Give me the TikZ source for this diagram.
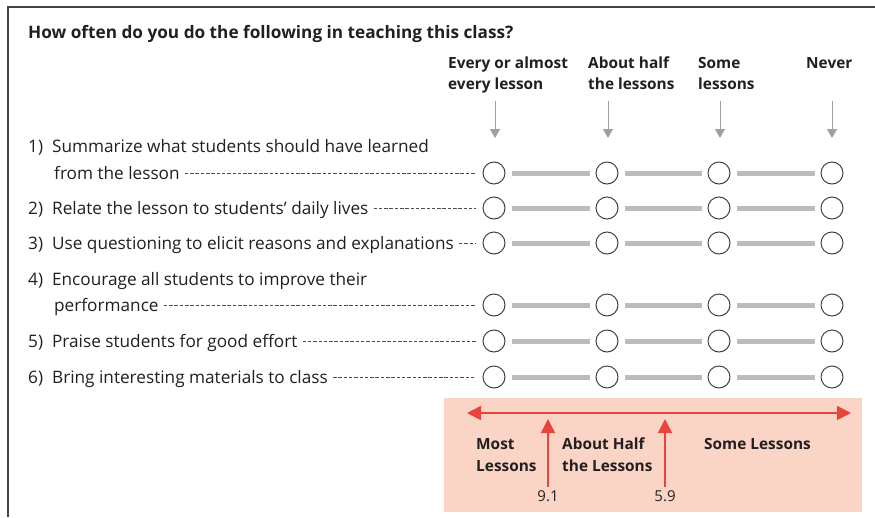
\documentclass[tikz,border=0pt]{standalone}
\usepackage{fontspec}
\setmainfont{Open Sans}
\usetikzlibrary{arrows.meta}
\definecolor{framegray}{HTML}{444444}
\definecolor{bargray}{HTML}{BCBCBE}
\definecolor{arrgray}{HTML}{A0A0A0}
\definecolor{salmon}{HTML}{FAD5C5}
\definecolor{redarr}{HTML}{E8453C}
\definecolor{txt}{HTML}{231F20}
\tikzset{
  x=1pt, y=-1pt,
  radio/.style={circle, draw=txt!85, line width=1pt, minimum size=22pt, inner sep=0pt},
  bar/.style={bargray, line width=5pt, shorten <=6pt, shorten >=6pt},
  leader/.style={txt!80, line width=0.6pt, dash pattern=on 3.5pt off 1.8pt, shorten >=7pt, shorten <=5pt},
  itemtxt/.style={anchor=base west, inner sep=0pt, text=txt, font=\fontsize{17.2}{20}\selectfont},
  headtxt/.style={anchor=base west, inner sep=0pt, text=txt, align=left, font=\bfseries\fontsize{15.4}{21}\selectfont},
  grayarr/.style={arrgray, line width=1pt, -{Triangle[width=10pt,length=9pt]}},
  redline/.style={redarr, line width=1.6pt},
  keytxt/.style={anchor=base west, inner sep=0pt, text=txt, align=left, font=\bfseries\fontsize{15.4}{22}\selectfont},
  numtxt/.style={anchor=base, inner sep=0pt, text=txt, font=\fontsize{15}{18}\selectfont}
}
\begin{document}
\begin{tikzpicture}
\useasboundingbox (0,0) rectangle (875,517);
\fill[white] (0,0) rectangle (875,517);
% frame
\draw[framegray, line width=1.5pt] (8,517) -- (8,7) -- (876,7);
% title
\node[anchor=base west, inner sep=0pt, text=txt, font=\bfseries\fontsize{17.2}{20}\selectfont] (title) at (28,38) {How often do you do the following in teaching this class?};
% headers (base = last line)
\node[headtxt] (h1) at (448,89) {Every or almost\\every lesson};
\node[headtxt] (h2) at (588,89) {About half\\the lessons};
\node[headtxt] (h3) at (698,89) {Some\\lessons};
\node[headtxt] (h4) at (806,68) {Never};
\coordinate (a1) at (495,101); \coordinate (b1) at (495,138);
\coordinate (a2) at (608,101); \coordinate (b2) at (608,138);
\coordinate (a3) at (720,101); \coordinate (b3) at (720,138);
\coordinate (a4) at (832,101); \coordinate (b4) at (832,138);
\foreach \i in {1,...,4} \draw[grayarr] (a\i) -- (b\i);
% items
\node[itemtxt] (t1a) at (28,152) {1)\hspace{9pt}Summarize what students should have learned};
\node[itemtxt] (t1) at (54,179) {from the lesson};
\node[itemtxt] (t2) at (28,214) {2)\hspace{9pt}Relate the lesson to students’ daily lives};
\node[itemtxt] (t3) at (28,249) {3)\hspace{9pt}Use questioning to elicit reasons and explanations};
\node[itemtxt] (t4a) at (28,285) {4)\hspace{9pt}Encourage all students to improve their};
\node[itemtxt] (t4) at (54,311) {performance};
\node[itemtxt] (t5) at (28,347) {5)\hspace{9pt}Praise students for good effort};
\node[itemtxt] (t6) at (28,383) {6)\hspace{9pt}Bring interesting materials to class};
% radio rows
\foreach \r/\y in {1/173,2/208,3/243,4/305,5/341,6/377}{
  \node[radio] (c\r1) at (494,\y) {};
  \node[radio] (c\r2) at (607,\y) {};
  \node[radio] (c\r3) at (719,\y) {};
  \node[radio] (c\r4) at (832,\y) {};
  \draw[bar] (c\r1) -- (c\r2);
  \draw[bar] (c\r2) -- (c\r3);
  \draw[bar] (c\r3) -- (c\r4);
}
\foreach \r in {1,...,6} \draw[leader] (t\r.east |- c\r1) -- (c\r1.west);
% key box
\fill[salmon] (444,398) rectangle (862,512);
\coordinate (L) at (467,413);
\coordinate (R) at (851,413);
\draw[redline, {Triangle[width=14pt,length=14pt]}-{Triangle[width=14pt,length=14pt]}] (L) -- (R);
\coordinate (u1) at (548,487); \coordinate (v1) at (548,419);
\coordinate (u2) at (665,487); \coordinate (v2) at (665,419);
\draw[redline, -{Triangle[width=14pt,length=14pt]}] (u1) -- (v1);
\draw[redline, -{Triangle[width=14pt,length=14pt]}] (u2) -- (v2);
\node[keytxt] (k1) at (476,471) {Most\\Lessons};
\node[keytxt] (k2) at (562,471) {About Half\\the Lessons};
\node[keytxt] (k3) at (704,449) {Some Lessons};
\node[numtxt] (n1) at (548,501) {9.1};
\node[numtxt] (n2) at (665,501) {5.9};
\end{tikzpicture}
\end{document}
